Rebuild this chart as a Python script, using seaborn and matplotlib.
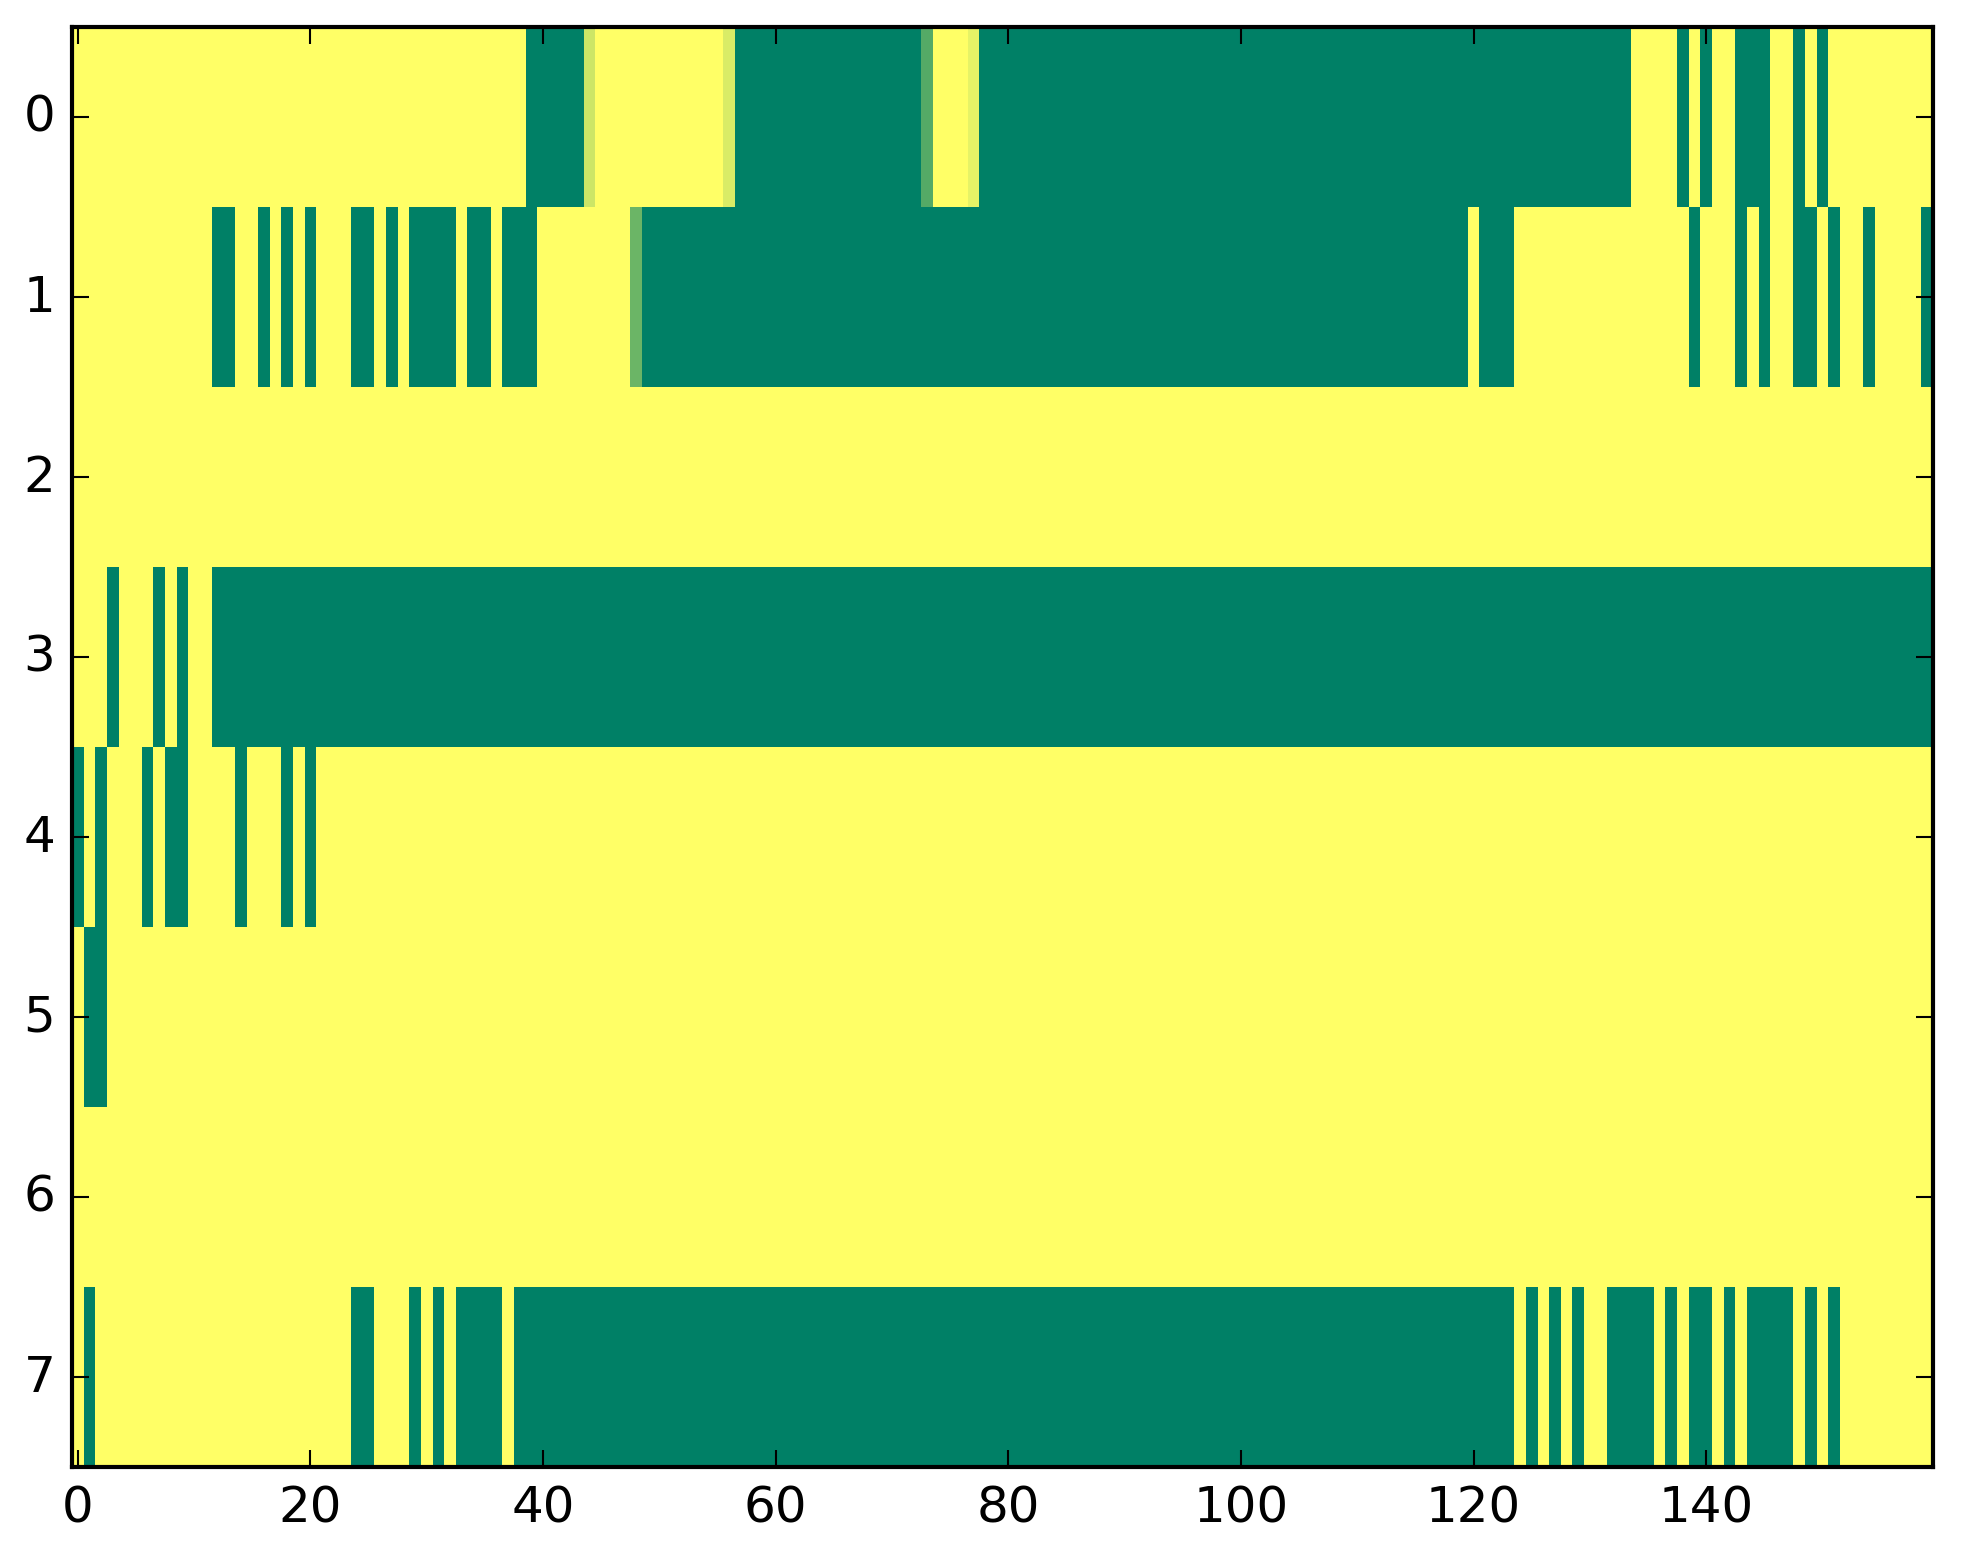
import numpy as np
import matplotlib
matplotlib.use("Agg")
import matplotlib.pyplot as plt
import seaborn as sns

# ======================================
# Data: one string per row, 160 cells, grouped by 10
# '1' = high (yellow), '0' = low (green), letters = in-between values
# ======================================

row0 = "1111111111 1111111111 1111111111 1111111110 0000c11111 111111d000 0000000000 000a111e00 0000000000 0000000000 0000000000 0000000000 0000000000 0000111101 0110001101 0111111111"
row1 = "1111111111 1100110101 0111001010 0001001000 11111111b0 0000000000 0000000000 0000000000 0000000000 0000000000 0000000000 0000000000 1000111111 1111111110 1110101100 1011011110"
row2 = "1111111111 1111111111 1111111111 1111111111 1111111111 1111111111 1111111111 1111111111 1111111111 1111111111 1111111111 1111111111 1111111111 1111111111 1111111111 1111111111"
row3 = "1110111010 1100000000 0000000000 0000000000 0000000000 0000000000 0000000000 0000000000 0000000000 0000000000 0000000000 0000000000 0000000000 0000000000 0000000000 0000000000"
row4 = "0101110100 1111011101 0111111111 1111111111 1111111111 1111111111 1111111111 1111111111 1111111111 1111111111 1111111111 1111111111 1111111111 1111111111 1111111111 1111111111"
row5 = "1001111111 1111111111 1111111111 1111111111 1111111111 1111111111 1111111111 1111111111 1111111111 1111111111 1111111111 1111111111 1111111111 1111111111 1111111111 1111111111"
row6 = "1111111111 1111111111 1111111111 1111111111 1111111111 1111111111 1111111111 1111111111 1111111111 1111111111 1111111111 1111111111 1111111111 1111111111 1111111111 1111111111"
row7 = "1011111111 1111111111 1111001110 1010000100 0000000000 0000000000 0000000000 0000000000 0000000000 0000000000 0000000000 0000000000 0000101010 1100001010 0101000010 1011111111"

levels = {"0": 0.0, "1": 1.0, "a": 0.33, "b": 0.42, "c": 0.80, "d": 0.85, "e": 0.90}

rows = [row0, row1, row2, row3, row4, row5, row6, row7]
grid = np.array([[levels[ch] for ch in r.replace(" ", "")] for r in rows])

x_ticks = [0, 20, 40, 60, 80, 100, 120, 140]
y_ticks = [0, 1, 2, 3, 4, 5, 6, 7]

# ======================================
# Plot
# ======================================

plt.style.use("classic")

fig, ax = plt.subplots(figsize=(1963 / 300, 1564 / 300), dpi=300)
fig.subplots_adjust(left=0.0367, right=0.9847, top=0.9824, bottom=0.0617)

sns.heatmap(grid, cmap="summer", vmin=0, vmax=1, cbar=False, ax=ax)

ax.set_xticks([t + 0.5 for t in x_ticks])
ax.set_xticklabels([str(t) for t in x_ticks], rotation=0)
ax.set_yticks([t + 0.5 for t in y_ticks])
ax.set_yticklabels([str(t) for t in y_ticks], rotation=0)

for s in ax.spines.values():
    s.set_visible(True)
    s.set_linewidth(1.0)
    s.set_color("black")

ax.tick_params(direction="in", top=True, right=True, length=4, width=0.5,
               labelsize=12, pad=4)

fig.savefig("out.png", dpi=300)
